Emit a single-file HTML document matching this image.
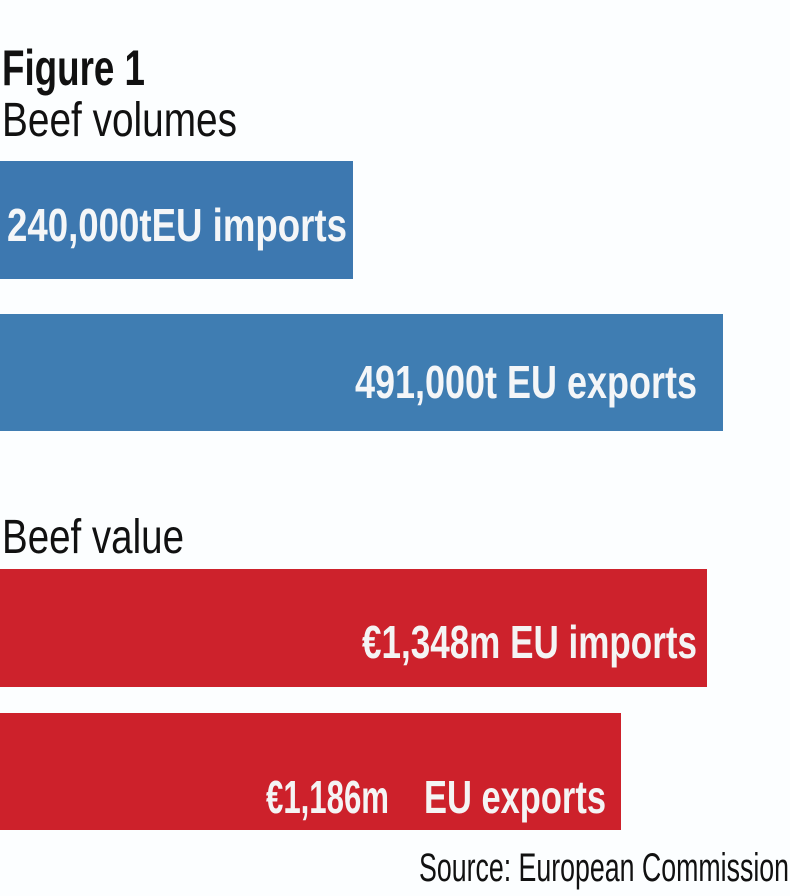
<!DOCTYPE html>
<html><head><meta charset="utf-8"><style>
html,body{margin:0;padding:0;background:#fcfeff;}
svg{display:block;}
</style></head><body>
<svg width="790" height="896" viewBox="0 0 790 896" xmlns="http://www.w3.org/2000/svg">
<rect width="790" height="896" fill="#fcfeff"/>
<g font-family="'Liberation Sans Narrow','Liberation Sans',sans-serif">
<text x="2" y="85" font-size="50" font-weight="bold" fill="#111" textLength="143" lengthAdjust="spacingAndGlyphs">Figure 1</text>
<text x="2" y="136" font-size="48" fill="#111" textLength="235" lengthAdjust="spacingAndGlyphs">Beef volumes</text>
<rect x="0" y="161" width="353" height="118" fill="#3d78b0"/>
<text x="7" y="241" font-size="46" font-weight="bold" fill="#f4f6f8" textLength="340" lengthAdjust="spacingAndGlyphs">240,000tEU imports</text>
<rect x="0" y="314" width="723" height="117" fill="#3f7db2"/>
<text x="355" y="398" font-size="46" font-weight="bold" fill="#f4f6f8" textLength="342" lengthAdjust="spacingAndGlyphs">491,000t EU exports</text>
<text x="2" y="553" font-size="48" fill="#111" textLength="182" lengthAdjust="spacingAndGlyphs">Beef value</text>
<rect x="0" y="569" width="707" height="118" fill="#cd222c"/>
<text x="362" y="658" font-size="46" font-weight="bold" fill="#f4f4f4" textLength="335" lengthAdjust="spacingAndGlyphs">€1,348m EU imports</text>
<rect x="0" y="713" width="621" height="117" fill="#cd212b"/>
<text x="266" y="813" font-size="46" font-weight="bold" fill="#f4f4f4" textLength="123" lengthAdjust="spacingAndGlyphs">€1,186m</text>
<text x="424" y="813" font-size="46" font-weight="bold" fill="#f4f4f4" textLength="182" lengthAdjust="spacingAndGlyphs">EU exports</text>
<text x="419" y="881" font-size="40" fill="#111" textLength="370" lengthAdjust="spacingAndGlyphs">Source: European Commission</text>
</g>
</svg>
</body></html>
